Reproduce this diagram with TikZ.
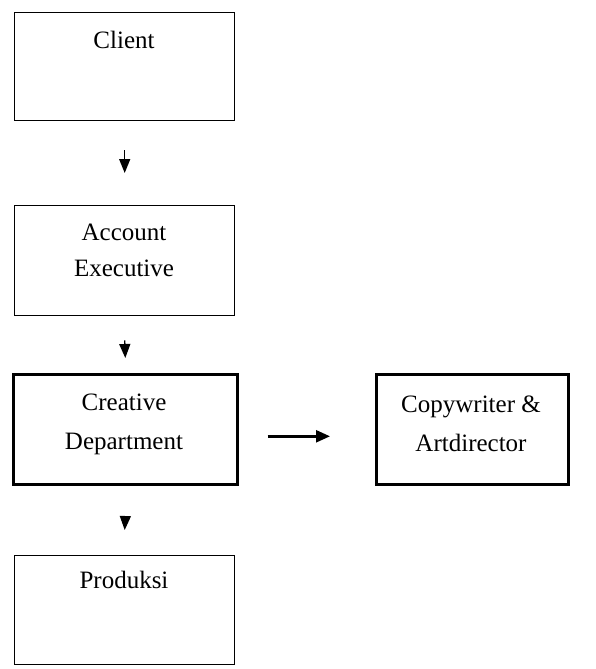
\documentclass[tikz,border=0pt]{standalone}
\usepackage{fontspec}
\setmainfont{Liberation Serif}
\usetikzlibrary{arrows.meta}
\begin{document}
\begin{tikzpicture}[x=1pt,y=1pt,
  thinbox/.style={draw=black,line width=1.4pt,inner sep=0pt,anchor=north west},
  thickbox/.style={draw=black,line width=2.6pt,inner sep=0pt,anchor=north west},
  lbl/.style={font=\fontsize{25}{36}\selectfont,align=center,inner sep=0pt},
  lblw/.style={font=\fontsize{25}{39}\selectfont,align=center,inner sep=0pt},
  varr/.style={line width=1.4pt,-{Triangle[width=11pt,length=14pt]}},
  harr/.style={line width=2.4pt,-{Triangle[width=12pt,length=14pt]}}]
\useasboundingbox (0,0) rectangle (595,-669);
\node[thinbox,minimum width=220pt,minimum height=108pt] (client) at (14,-12) {};
\node[thinbox,minimum width=220pt,minimum height=110pt] (ae) at (14,-205) {};
\node[thickbox,minimum width=224pt,minimum height=110pt] (cd) at (12,-373) {};
\node[thickbox,minimum width=192pt,minimum height=110pt] (cw) at (375,-373) {};
\node[thinbox,minimum width=220pt,minimum height=109pt] (pr) at (14,-555) {};
\node[lbl] (tclient) at (124,-40) {Client};
\node[lbl] (tae) at (124,-250) {Account\\Executive};
\node[lblw] (tcd) at (124,-424) {Creative\\Department};
\node[lblw] (tcw) at (471,-424) {Copywriter \&\\Artdirector};
\node[lbl] (tpr) at (124,-580) {Produksi};
\draw[varr] ([yshift=-29pt]client.south) -- ([yshift=32pt]ae.north);
\draw[varr] ([yshift=-24pt]ae.south) -- ([yshift=15pt]cd.north);
\draw[varr] ([yshift=-31pt]cd.south) -- ([yshift=25pt]pr.north);
\draw[harr] ([xshift=29pt,yshift=-7pt]cd.east) -- ([xshift=-45pt,yshift=-7pt]cw.west);
\end{tikzpicture}
\end{document}
